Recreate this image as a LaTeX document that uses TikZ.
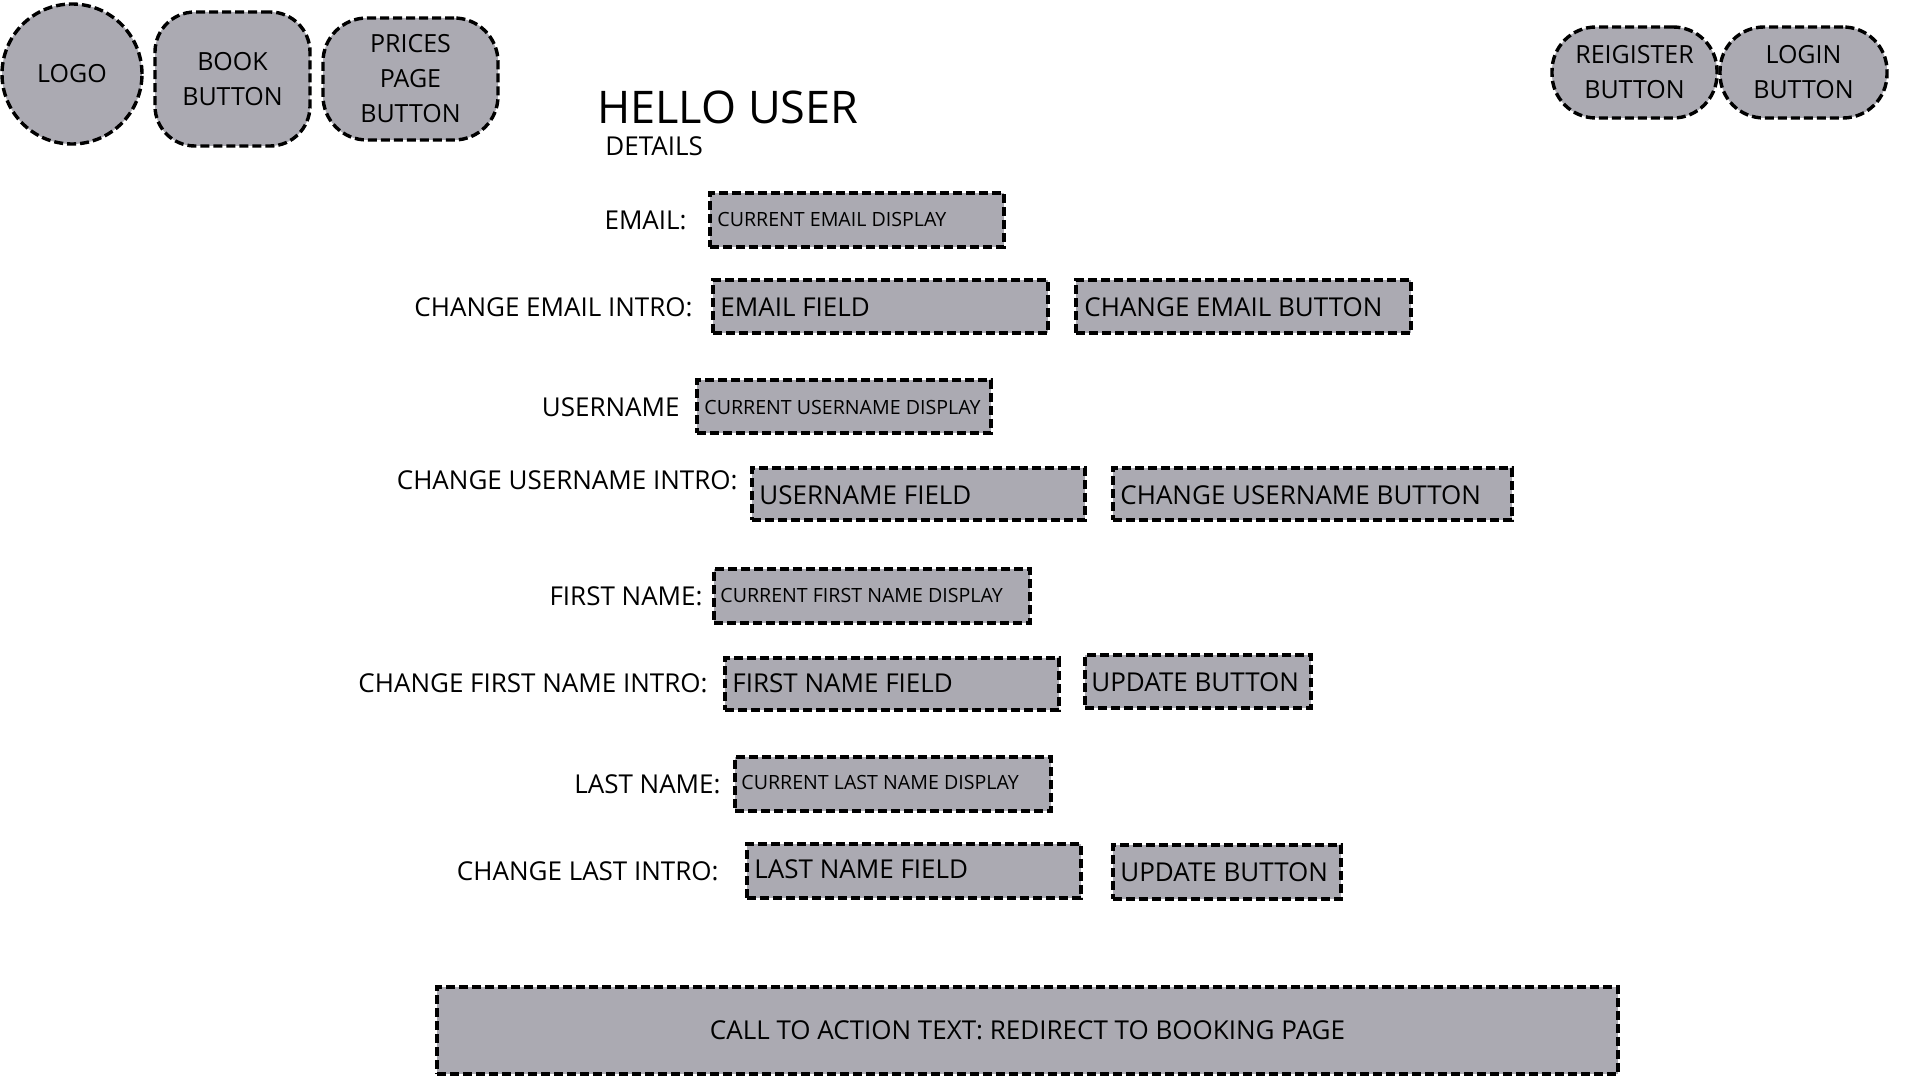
\documentclass[tikz,border=0pt]{standalone}
\usepackage{fontspec}
\setmainfont{Open Sans}
\usetikzlibrary{fit}
\definecolor{boxgrey}{RGB}{171,170,178}
\begin{document}
\begin{tikzpicture}[x=0.5pt,y=-0.5pt,
  dsh/.style={draw=black, line width=1.7pt, dash pattern=on 4.5pt off 2pt, fill=boxgrey},
  boxf/.style={dsh, rectangle, inner sep=0pt},
  lbl/.style={font=\fontsize{13}{15}\selectfont, inner sep=0pt, anchor=east},
  fld/.style={font=\fontsize{13}{15}\selectfont, inner sep=0pt, anchor=west},
  disp/.style={font=\fontsize{9.8}{12}\selectfont, inner sep=0pt, anchor=west},
  btn/.style={font=\fontsize{12.5}{17.5}\selectfont, align=center, text=black}]
\useasboundingbox (0,0) rectangle (1920,1080);
\fill[white] (0,0) rectangle (1920,1080);

% top navigation
\node[dsh, circle, minimum size=70pt, inner sep=0pt, btn] (logo) at (72,74) {LOGO};
\node[boxf, rounded corners=20pt, minimum width=77.5pt, minimum height=67pt, btn] (book) at (232.5,79) {BOOK\\BUTTON};
\node[boxf, rounded corners=22pt, minimum width=87.5pt, minimum height=61pt, btn] (prices) at (410.5,79) {PRICES\\PAGE\\BUTTON};
\node[boxf, rounded corners=22pt, minimum width=82.5pt, minimum height=45.5pt, btn] (reg) at (1634.5,72.5) {REIGISTER\\BUTTON};
\node[boxf, rounded corners=22pt, minimum width=83.5pt, minimum height=45.5pt, btn] (login) at (1803.5,72.5) {LOGIN\\BUTTON};

% title
\node[anchor=west, font=\fontsize{22.5}{26}\selectfont, inner sep=0pt] (hello) at (597,107) {HELLO USER};
\node[fld] (details) at (605,146) {DETAILS};

% email
\node[lbl] (lemail) at (687,220) {EMAIL:};
\node[boxf, fit={(710,193) (1004,247)}] (cemail) {};
\node[disp] (cemailt) at (717,220) {CURRENT EMAIL DISPLAY};
\node[lbl] (lcemail) at (693,307) {CHANGE EMAIL INTRO:};
\node[boxf, fit={(713,280) (1048,333)}] (femail) {};
\node[fld] (femailt) at (720,307) {EMAIL FIELD};
\node[boxf, fit={(1076,280) (1411,333)}] (bemail) {};
\node[fld] (bemailt) at (1084,307) {CHANGE EMAIL BUTTON};

% username
\node[lbl] (luser) at (680,407) {USERNAME};
\node[boxf, fit={(697,380) (991,433)}] (cuser) {};
\node[disp] (cusert) at (704,407) {CURRENT USERNAME DISPLAY};
\node[lbl] (lcuser) at (738,480) {CHANGE USERNAME INTRO:};
\node[boxf, fit={(752,468) (1085,520)}] (fuser) {};
\node[fld] (fusert) at (759,495) {USERNAME FIELD};
\node[boxf, fit={(1113,468) (1512,520)}] (buser) {};
\node[fld] (busert) at (1120,495) {CHANGE USERNAME BUTTON};

% first name
\node[lbl] (lfirst) at (703,596) {FIRST NAME:};
\node[boxf, fit={(714,569) (1030,623)}] (cfirst) {};
\node[disp] (cfirstt) at (720,595) {CURRENT FIRST NAME DISPLAY};
\node[lbl] (lcfirst) at (708,683) {CHANGE FIRST NAME INTRO:};
\node[boxf, fit={(725,658) (1059,710)}] (ffirst) {};
\node[fld] (ffirstt) at (732,683) {FIRST NAME FIELD};
\node[boxf, fit={(1085,655) (1311,708)}] (bfirst) {};
\node[fld] (bfirstt) at (1091,682) {UPDATE BUTTON};

% last name
\node[lbl] (llast) at (721,784) {LAST NAME:};
\node[boxf, fit={(735,757) (1051,811)}] (clast) {};
\node[disp] (clastt) at (741,782) {CURRENT LAST NAME DISPLAY};
\node[lbl] (lclast) at (719,871) {CHANGE LAST INTRO:};
\node[boxf, fit={(747,844) (1081,898)}] (flast) {};
\node[fld] (flastt) at (754,869) {LAST NAME FIELD};
\node[boxf, fit={(1113,845) (1341,899)}] (blast) {};
\node[fld] (blastt) at (1120,872) {UPDATE BUTTON};

% call to action
\node[boxf, minimum width=590.5pt, minimum height=43.5pt, font=\fontsize{13}{15}\selectfont] (cta) at (1027.5,1030.5) {CALL TO ACTION TEXT: REDIRECT TO BOOKING PAGE};
\end{tikzpicture}
\end{document}
